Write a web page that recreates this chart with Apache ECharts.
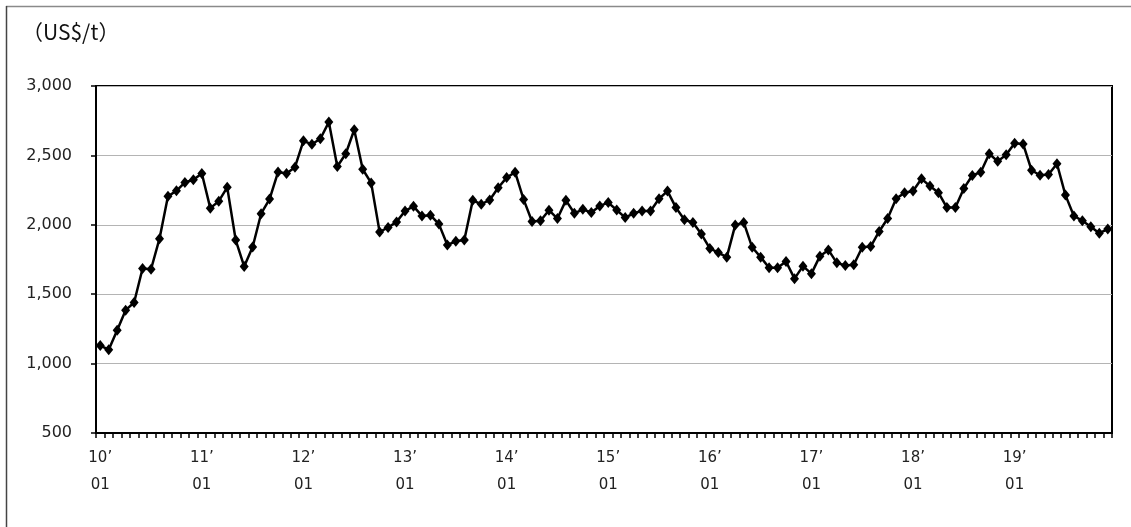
<!DOCTYPE html>
<html>
<head>
<meta charset="utf-8">
<script src="https://cdn.jsdelivr.net/npm/echarts@6/dist/echarts.min.js"></script>
<style>
html,body{margin:0;padding:0;background:#fff;}
#c{width:1131px;height:527px;}
</style>
</head>
<body>
<div id="c"></div>
<script>
// Monthly categories 2010-01 .. 2019-12
const years = ['10','11','12','13','14','15','16','17','18','19'];
const months = ['01','02','03','04','05','06','07','08','09','10','11','12'];
const categories = [];
years.forEach(y => months.forEach(m => categories.push(y + '-' + m)));

const unitLabel = '（US$/t）';
const yTicks = [500, 1000, 1500, 2000, 2500, 3000];

const v2010 = [1130, 1100, 1240, 1385, 1440, 1685, 1680, 1900, 2205, 2245, 2305, 2325];
const v2011 = [2370, 2120, 2170, 2270, 1890, 1700, 1840, 2080, 2185, 2380, 2370, 2415];
const v2012 = [2605, 2580, 2620, 2740, 2420, 2512, 2685, 2400, 2302, 1948, 1981, 2021];
const v2013 = [2100, 2133, 2064, 2069, 2005, 1855, 1881, 1890, 2176, 2148, 2179, 2267];
const v2014 = [2340, 2379, 2183, 2024, 2029, 2105, 2045, 2176, 2083, 2112, 2088, 2136];
const v2015 = [2160, 2107, 2052, 2083, 2100, 2100, 2188, 2243, 2124, 2036, 2017, 1933];
const v2016 = [1830, 1800, 1767, 1998, 2017, 1838, 1767, 1690, 1690, 1736, 1612, 1702];
const v2017 = [1648, 1774, 1819, 1726, 1707, 1712, 1838, 1843, 1952, 2045, 2188, 2231];
const v2018 = [2243, 2332, 2279, 2231, 2124, 2124, 2262, 2355, 2379, 2512, 2457, 2505];
const v2019 = [2588, 2583, 2393, 2357, 2362, 2440, 2214, 2064, 2029, 1986, 1940, 1969];

const values = [].concat(v2010, v2011, v2012, v2013, v2014, v2015, v2016, v2017, v2018, v2019);

const chart = echarts.init(document.getElementById('c'), null, {renderer: 'canvas'});
const labelFont = 'DejaVu Sans';
chart.setOption({
  animation: false,
  backgroundColor: '#fff',
  graphic: [
    {type: 'line', shape: {x1: 6, y1: 6.5, x2: 1131, y2: 6.5},
     style: {stroke: '#8a8a8a', lineWidth: 1.5}, silent: true},
    {type: 'line', shape: {x1: 6.5, y1: 6, x2: 6.5, y2: 527},
     style: {stroke: '#444', lineWidth: 1.5}, silent: true},
    {type: 'text', x: 22, y: 22,
     style: {text: unitLabel, fontFamily: 'Noto Sans CJK JP', fontSize: 21, fill: '#111'}}
  ],
  grid: {left: 96, right: 19, top: 86, bottom: 94, show: true,
         borderColor: '#000', borderWidth: 2, backgroundColor: 'transparent'},
  xAxis: {
    type: 'category',
    data: categories,
    boundaryGap: true,
    axisLine: {lineStyle: {color: '#000', width: 2}},
    axisTick: {show: true, interval: 0, length: 5, lineStyle: {color: '#000', width: 1.5}},
    axisLabel: {
      interval: 11,
      margin: 12,
      fontFamily: labelFont,
      fontSize: 15,
      lineHeight: 27,
      color: '#222',
      formatter: function (val) {
        const p = val.split('-');
        return p[0] + '’\n' + p[1];
      }
    },
    splitLine: {show: false}
  },
  yAxis: {
    type: 'value',
    min: yTicks[0],
    max: yTicks[yTicks.length - 1],
    interval: 500,
    axisLine: {show: true, lineStyle: {color: '#000', width: 2}},
    axisTick: {show: true, length: 5, lineStyle: {color: '#000', width: 1.5}},
    axisLabel: {
      margin: 24,
      fontFamily: labelFont,
      fontSize: 16,
      color: '#222',
      formatter: function (v) { return v.toLocaleString('en-US'); }
    },
    splitLine: {show: true, lineStyle: {color: '#b4b4b4', width: 1}}
  },
  series: [{
    type: 'line',
    data: values,
    symbol: 'diamond',
    symbolSize: [9, 11],
    showAllSymbol: true,
    lineStyle: {color: '#000', width: 2.5},
    itemStyle: {color: '#000'},
    z: 5
  }]
});
</script>
</body>
</html>
